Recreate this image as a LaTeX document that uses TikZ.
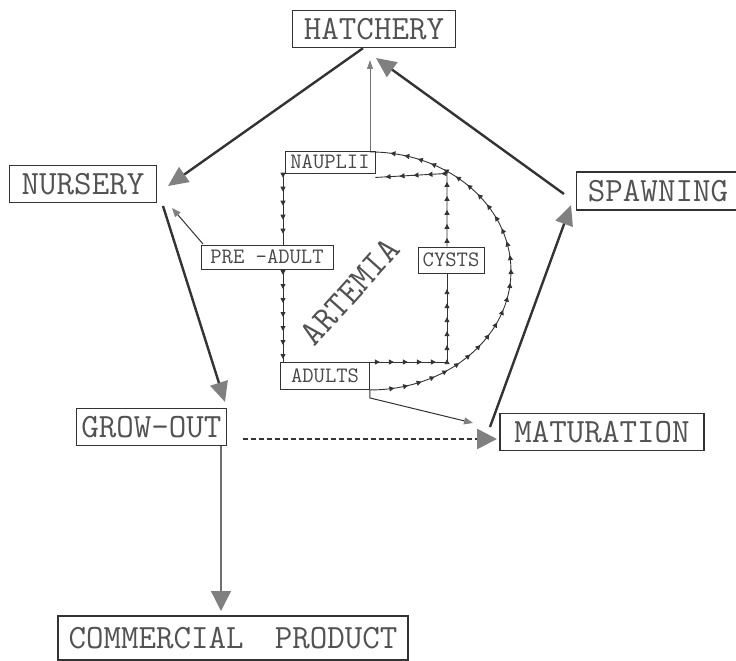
\documentclass[tikz,border=0pt]{standalone}
\usepackage{fontspec}
\usetikzlibrary{arrows.meta,decorations.markings}
\definecolor{ink}{HTML}{333333}
\definecolor{headgray}{HTML}{808080}
\begin{document}
\begin{tikzpicture}[x=1pt,y=1pt,
  bigbox/.style={draw=ink,line width=1.4pt,font=\fontsize{34}{36}\selectfont\ttfamily,
    inner xsep=4pt,inner ysep=0pt,minimum height=37pt,text=ink!85},
  smallbox/.style={draw=ink,line width=0.9pt,font=\fontsize{22}{24}\selectfont\ttfamily,
    inner xsep=2pt,inner ysep=0pt,minimum height=24pt,text=ink!90},
  thick link/.style={draw=ink,line width=2.4pt,-{Triangle[length=20pt,width=18pt,color=headgray]}},
  thin link/.style={draw=ink,line width=1pt,-{Triangle[length=9pt,width=7pt,color=headgray]}},
  cyc/.style={draw=ink,line width=0.9pt,postaction={decorate},
    decoration={markings,mark=between positions 0.06 and 0.97 step 14pt with
      {\arrow{Triangle[length=5pt,width=5pt]}}}}
]
\useasboundingbox (0,0) rectangle (736,-661);

% main boxes
\node[bigbox,minimum width=163pt] (hatch) at (374,-29) {HATCHERY};
\node[bigbox,minimum width=147pt] (nurs) at (83,-184) {NURSERY};
\node[bigbox,minimum width=163pt,minimum height=38pt] (spawn) at (658,-191) {SPAWNING};
\node[bigbox,minimum width=204pt] (matur) at (602,-432) {MATURATION};
\node[bigbox,minimum width=150pt,anchor=east] (grow) at (227,-427) {GROW-OUT};
\node[bigbox,minimum width=350pt,minimum height=44pt] (comm) at (233,-638) {COMMERCIAL\hspace{0.4em} PRODUCT};

% artemia boxes
\node[smallbox,minimum width=90pt,minimum height=22pt] (naup) at (330,-162) {NAUPLII};
\node[smallbox,minimum width=132pt] (pread) at (267,-257) {PRE –ADULT};
\node[smallbox,minimum width=66pt,minimum height=26pt] (cysts) at (451,-260) {CYSTS};
\node[smallbox,minimum width=89pt,minimum height=27pt] (adults) at (325,-376) {ADULTS};

\node[font=\fontsize{36}{40}\selectfont\ttfamily,text=ink!85,rotate=48,inner sep=0pt] (art) at (350,-292) {ARTEMIA};

% connector end points
\coordinate (h1) at ([xshift=-11pt]hatch.south);
\coordinate (n1) at (168,-186);
\coordinate (s1) at (564,-194);
\coordinate (h2) at (376,-58);
\coordinate (m1) at (490,-427);
\coordinate (s2) at (571,-205);
\coordinate (n2) at (163,-206);
\coordinate (g1) at (225,-402);
\coordinate (p1) at (203,-244);
\coordinate (n3) at (172,-208);
\coordinate (g2) at (221,-446);
\coordinate (c1) at (221,-611);
\coordinate (g3) at (243,-439);
\coordinate (m2) at (497,-439);
\coordinate (a1) at (adults.south east);
\coordinate (m3) at (473,-423);
\coordinate (na1) at (370,-151);
\coordinate (h3) at (370,-60);

% main cycle
\draw[thick link] (h1) -- (n1);
\draw[thick link] (s1) -- (h2);
\draw[thick link] (m1) -- (s2);
\draw[thick link] (n2) -- (g1);
\draw[draw=ink!70,line width=1.3pt,-{Triangle[length=20pt,width=20pt,color=headgray]}] (g2) -- (c1);
\draw[draw=ink,line width=2.6pt,dash pattern=on 5pt off 3pt,-{Triangle[length=20pt,width=20pt,color=headgray]}] (g3) -- (m2);

% thin links
\draw[thin link] (p1) -- (n3);
\draw[thin link] (a1) -- ++(0,-8) -- (m3);
\draw[draw=ink!70,line width=0.9pt,-{Triangle[length=9pt,width=6pt,color=headgray]}] (na1) -- (h3);

% artemia cycle
\draw[cyc] ([xshift=-47pt]naup.south) -- ([xshift=-47pt]naup.south |- pread.north);
\draw[cyc] ([xshift=-47pt]naup.south |- pread.south) -- ([xshift=-47pt]naup.south |- adults.north);
\draw[cyc] (adults.north east) -- ([xshift=-4pt]cysts.south |- adults.north) -- ([xshift=-4pt]cysts.south);
\draw[cyc] ([xshift=-4pt]cysts.north) -- ([xshift=-4pt]cysts.north |- naup.south) -- ([yshift=-4pt]naup.south east);
\draw[cyc] (adults.south east) arc[start angle=-90,end angle=90,x radius=141,y radius=119];
\end{tikzpicture}
\end{document}
